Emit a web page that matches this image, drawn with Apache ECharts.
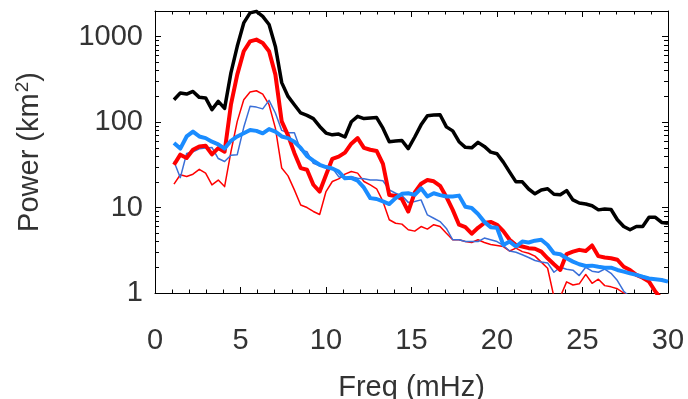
<!DOCTYPE html>
<html><head><meta charset="utf-8">
<script src="https://cdn.jsdelivr.net/npm/echarts@6/dist/echarts.min.js"></script>
<style>html,body{margin:0;padding:0;background:#fff}#c{width:688px;height:399px}</style>
</head><body><div id="c"></div>
<script>
// Frequencies (mHz)
const freq = [1.11,1.48,1.85,2.22,2.59,2.96,3.33,3.70,4.07,4.44,4.81,5.19,5.56,5.93,6.30,6.67,7.04,7.41,7.78,
  8.15,8.52,8.89,9.26,9.63,10.00,10.37,10.74,11.11,11.48,11.85,12.22,12.59,12.96,13.33,13.70,14.07,14.44,14.81,
  15.19,15.56,15.93,16.30,16.67,17.04,17.41,17.78,18.15,18.52,18.89,19.26,19.63,20.00,20.37,20.74,21.11,21.48,21.85,
  22.22,22.59,22.96,23.33,23.70,24.07,24.44,24.81,25.19,25.56,25.93,26.30,26.67,27.04,27.41,27.78,28.15,28.52,28.89,29.26,29.63,30.00];

const blackThick = [183,219,213,229,195,192,140,175,145,377,772,1450,1900,1980,1730,1390,770,290,200,
  160,128,120,110,89,74.5,71,72.5,67,101,117,110,112,113,85,59,60,61,49,
  67,93,119,121,122,88,79,59,50.7,50,58,52,44.6,42.7,34,26,20,20,16.5,
  14.5,16.1,16.6,14.3,14.1,15.8,12.3,11.3,11.0,10.5,9.4,9.6,9.5,7.2,6.0,5.5,6.0,6.0,7.7,7.7,6.7,6.55];

const redThick = [31.7,41.6,38,47.5,52,53,42,49.7,45,160,360,675,883,925,846,675,360,102,70,
  43.6,29,27.7,18.5,15.4,24,37.2,39.5,44,56,65,50,47.5,46,32.5,14,13.7,12.6,9.0,
  15,19,21,20.3,18,13.3,9.4,6.3,5.9,4.95,5.8,6.6,6.8,6.3,5.3,4.2,3.65,3.5,3.35,
  3.3,3.05,2.55,2.17,1.86,2.86,3.05,3.2,3.1,3.6,2.7,2.6,2.55,2.45,2.03,1.86,1.63,1.51,1.36,1.04,0.85,0.72];

const redThin = [18.8,24.2,23.1,24.6,28,25.3,18.4,21,17.6,45,102,183,225,233,213,160,85,29,23.5,
  16.1,10.7,10.0,9.0,8.3,15.4,20.2,21.7,24.6,26.4,25.3,20.2,18.4,16.6,11.8,7.2,6.55,6.4,5.5,
  5.3,6.0,5.6,6.3,6.0,5.0,4.2,4.2,4.0,3.9,4.2,3.9,3.7,3.6,3.5,3.1,3.35,3.05,2.92,
  2.7,2.3,1.95,0.9,0.9,1.35,1.24,1.28,1.65,1.3,1.45,1.22,1.18,1.12,1.0,0.9,0.85,0.8,0.75,0.7,0.7,0.65];

const blueThin = [34.6,22.4,43,45,48.8,49.7,50.5,37.5,34.6,41,41.6,87,153,150,143,180,128,80,75,
  75,47,45,33,30.9,29.8,29,23,22.4,23,22,21.7,21,21,20.6,16.1,14.7,13.8,11.5,
  11.8,12.3,8.2,7.5,6.85,5.7,4.2,4.2,4.0,4.0,4.0,4.4,4.2,4.0,3.6,3.1,3.0,2.8,2.6,
  2.4,2.3,2.25,1.75,2.0,1.9,1.85,1.6,2.0,1.8,1.75,1.9,1.7,1.4,1.05,0.9,0.88,0.85,0.8,0.8,0.75,0.7];

const blueThick = [57,49,68,77.5,68,65,59,55,49,60.5,68,74,81,79,74,83,77.5,68,65,
  59,50,40,35.4,31.7,29.8,28.7,26.4,22,22.3,20.6,17.1,12.9,12.6,11.8,11.0,12.9,14.5,14.7,
  14.1,16.8,13.5,14.7,14,13.5,13.5,13.8,10.2,9.9,8.4,6.8,5.9,5.8,3.65,4.0,3.5,4.0,3.9,
  4.1,4.2,3.65,2.92,2.84,2.55,2.33,2.17,2.07,2.09,2.03,1.98,1.98,1.86,1.78,1.7,1.63,1.55,1.48,1.45,1.42,1.36];

const yMajorTicks = [1,10,100,1000];
const yMinorTicks = [2,3,4,5,6,7,8,9,20,30,40,50,60,70,80,90,200,300,400,500,600,700,800,900];

const FONT = '"Liberation Sans", Arial, sans-serif';
const TXT = '#333';
const pairs = arr => freq.map((f, i) => [f, arr[i]]);

const xBase = (pos, labels) => ({
  type: 'value', position: pos, min: 0, max: 30, interval: 5,
  axisLine: { show: true, onZero: false, lineStyle: { color: '#000', width: 1 } },
  axisTick: { show: true, inside: true, length: 6, lineStyle: { color: '#000', width: 1 } },
  minorTick: { show: true, splitNumber: 5, length: 3.5, lineStyle: { color: '#000', width: 1 } },
  splitLine: { show: false },
  axisLabel: labels ? { show: true, fontSize: 29, color: TXT, fontFamily: FONT, margin: 33 } : { show: false }
});

const yBase = (pos, ticks, len, showLine, labels) => ({
  type: 'log', logBase: 10, min: 1, max: 2000, position: pos,
  axisLine: { show: showLine, onZero: false, lineStyle: { color: '#000', width: 1 } },
  axisTick: { show: true, inside: true, length: len, customValues: ticks, lineStyle: { color: '#000', width: 1 } },
  minorTick: { show: false },
  splitLine: { show: false },
  axisLabel: labels ? { show: true, customValues: ticks, fontSize: 29, color: TXT, fontFamily: FONT, margin: 12,
    formatter: v => String(Math.round(v)) } : { show: false }
});

const xMain = xBase('bottom', true);
xMain.name = 'Freq (mHz)';
xMain.nameLocation = 'middle';
xMain.nameGap = 80;
xMain.nameTextStyle = { fontSize: 29, color: TXT, fontFamily: FONT };

const yMain = yBase('left', yMajorTicks, 6, true, true);
yMain.name = 'Power (km{sup|2})';
yMain.nameLocation = 'middle';
yMain.nameGap = 109;
yMain.nameTextStyle = { fontSize: 29, color: TXT, fontFamily: FONT,
  rich: { sup: { fontSize: 19, color: TXT, fontFamily: FONT, padding: [0, 0, 14, 1] } } };

const mk = (name, arr, color, width) => ({
  name, type: 'line', data: pairs(arr), xAxisIndex: 0, yAxisIndex: 0,
  symbol: 'none', clip: true, lineStyle: { color, width, join: 'round' }, itemStyle: { color },
  emphasis: { disabled: true }
});

const chart = echarts.init(document.getElementById('c'), null, { renderer: 'canvas' });
chart.setOption({
  animation: false,
  backgroundColor: '#fff',
  grid: { left: 155, right: 20, top: 11, bottom: 106, containLabel: false, outerBoundsMode: 'none' },
  xAxis: [xMain, xBase('top', false)],
  yAxis: [
    yMain,
    yBase('left', yMinorTicks, 4, false, false),
    yBase('right', yMajorTicks, 6, true, false),
    yBase('right', yMinorTicks, 4, false, false)
  ],
  series: [
    mk('redThin', redThin, '#ff0000', 1.5),
    mk('blueThin', blueThin, '#3a6fd8', 1.5),
    mk('redThick', redThick, '#ff0000', 4),
    mk('blueThick', blueThick, '#1a8cff', 4),
    mk('black', blackThick, '#000000', 3.5)
  ]
});
</script></body></html>
